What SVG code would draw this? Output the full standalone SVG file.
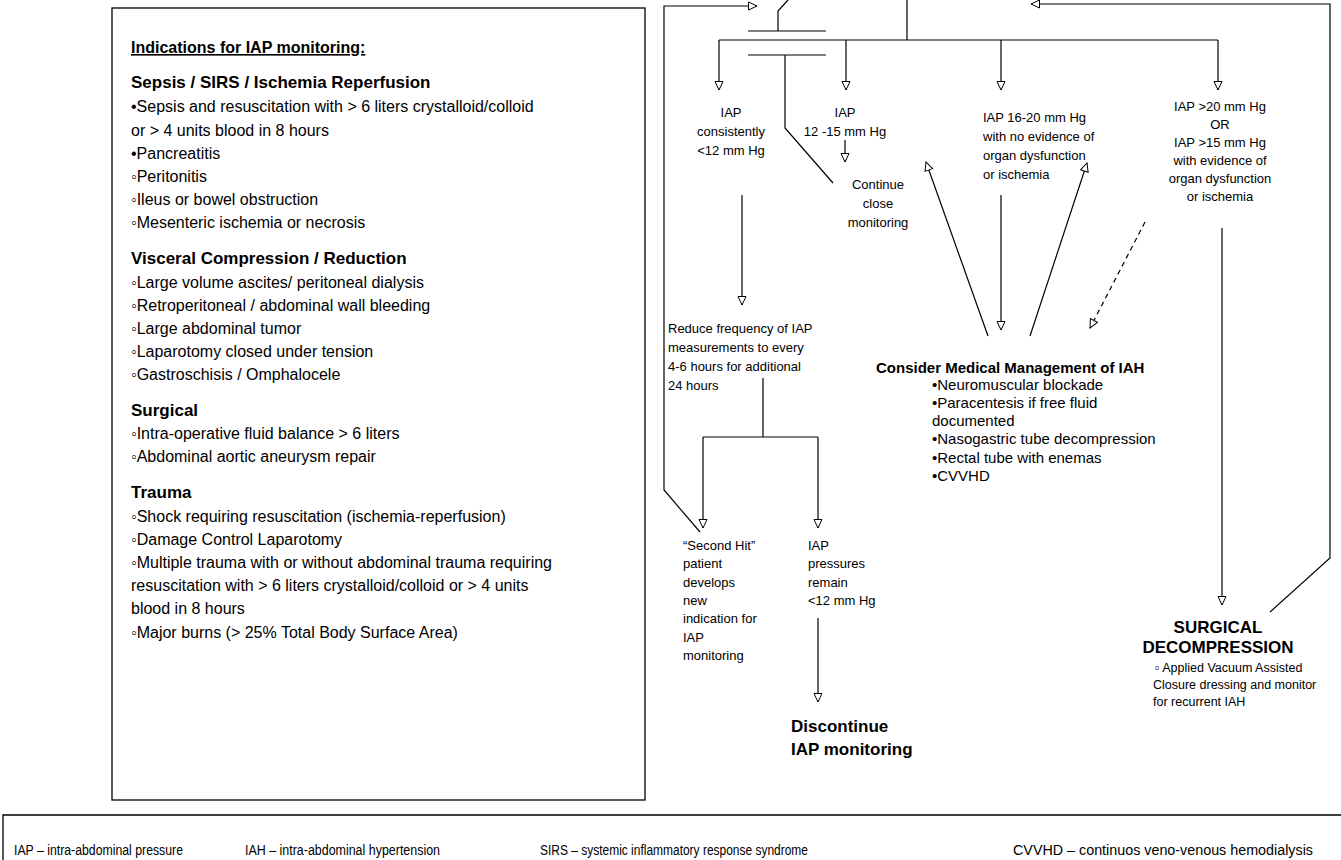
<svg xmlns="http://www.w3.org/2000/svg" width="1341" height="860" viewBox="0 0 1341 860">
<defs>
<marker id="ar" markerWidth="11" markerHeight="11" refX="9.5" refY="5" orient="auto" markerUnits="userSpaceOnUse"><path d="M1,1 L9.5,5 L1,9 z" fill="#fff" stroke="#000" stroke-width="1"/></marker>
<style>
.t{font-family:"Liberation Sans",Arial,sans-serif;fill:#000}
.lb{font-size:16px}
.lbb{font-size:17px;font-weight:bold}
.f{font-size:13px}
.fb{font-size:15px}
.big{font-size:17px;font-weight:bold}
.lg{font-size:14px}
.ln{stroke:#000;stroke-width:1.2;fill:none}
.arr{marker-end:url(#ar)}
.ds{stroke-dasharray:5 4}
</style>
</defs>
<rect width="1341" height="860" fill="#fff"/>

<g id="indications">
<rect x="112" y="8" width="533" height="792" fill="none" stroke="#000" stroke-width="1.3"/>
<g class="t lb">
<text x="131" y="53" font-weight="bold" text-decoration="underline">Indications for IAP monitoring:</text>
<text x="131" y="88" class="lbb">Sepsis / SIRS / Ischemia Reperfusion</text>
<text x="131" y="112">•Sepsis and resuscitation with &gt; 6 liters crystalloid/colloid</text>
<text x="131" y="136">or &gt; 4 units blood in 8 hours</text>
<text x="131" y="159">•Pancreatitis</text>
<text x="131" y="182">◦Peritonitis</text>
<text x="131" y="205">◦Ileus or bowel obstruction</text>
<text x="131" y="228">◦Mesenteric ischemia or necrosis</text>
<text x="131" y="264" class="lbb">Visceral Compression / Reduction</text>
<text x="131" y="288">◦Large volume ascites/ peritoneal dialysis</text>
<text x="131" y="311">◦Retroperitoneal / abdominal wall bleeding</text>
<text x="131" y="334">◦Large abdominal tumor</text>
<text x="131" y="357">◦Laparotomy closed under tension</text>
<text x="131" y="380">◦Gastroschisis / Omphalocele</text>
<text x="131" y="416" class="lbb">Surgical</text>
<text x="131" y="439">◦Intra-operative fluid balance &gt; 6 liters</text>
<text x="131" y="462">◦Abdominal aortic aneurysm repair</text>
<text x="131" y="498" class="lbb">Trauma</text>
<text x="131" y="522">◦Shock requiring resuscitation (ischemia-reperfusion)</text>
<text x="131" y="545">◦Damage Control Laparotomy</text>
<text x="131" y="568">◦Multiple trauma with or without abdominal trauma requiring</text>
<text x="131" y="591">resuscitation with &gt; 6 liters crystalloid/colloid or &gt; 4 units</text>
<text x="131" y="614">blood in 8 hours</text>
<text x="131" y="638">◦Major burns (&gt; 25% Total Body Surface Area)</text>
</g>
</g>

<g id="connectors">
<path class="ln" d="M788,0 L778,11 L778,31 M748,31 L826,31"/>
<path class="ln" d="M907,0 L907,40 M719,40 L1218,40"/>
<path class="ln arr" d="M719,40 L719,90"/>
<path class="ln arr" d="M846,40 L846,90"/>
<path class="ln arr" d="M1001,40 L1001,90"/>
<path class="ln arr" d="M1218,40 L1218,90"/>
<path class="ln" d="M748,55 L826,55 M785,55 L785,128 L833,183"/>
<path class="ln arr" d="M845,140 L845,162"/>
<path class="ln arr" d="M742,195 L742,305"/>
<path class="ln" d="M763,378 L763,437 M703,437 L818,437"/>
<path class="ln arr" d="M703,437 L703,528"/>
<path class="ln arr" d="M818,437 L818,528"/>
<path class="ln arr" d="M818,618 L818,702"/>
<path class="ln arr" d="M700,532 L664,490 L664,6 L757,6"/>
<path class="ln arr" d="M1001,195 L1001,330"/>
<path class="ln arr" d="M988,336 L926,162"/>
<path class="ln arr" d="M1030,336 L1087,163"/>
<path class="ln arr ds" d="M1145,222 L1090,328"/>
<path class="ln arr" d="M1222,228 L1222,605"/>
<path class="ln arr" d="M1270,612 L1330,558 L1330,4 L1031,4"/>
</g>

<g id="n-lt12" class="t f" text-anchor="middle">
<text x="731" y="117">IAP</text>
<text x="731" y="136">consistently</text>
<text x="731" y="155">&lt;12 mm Hg</text>
</g>
<g id="n-12-15" class="t f" text-anchor="middle">
<text x="845" y="117">IAP</text>
<text x="845" y="136">12 -15 mm Hg</text>
</g>
<g id="n-continue" class="t f" text-anchor="middle">
<text x="878" y="189">Continue</text>
<text x="878" y="208">close</text>
<text x="878" y="227">monitoring</text>
</g>
<g id="n-16-20" class="t f">
<text x="983" y="122">IAP 16-20 mm Hg</text>
<text x="983" y="141">with no evidence of</text>
<text x="983" y="160">organ dysfunction</text>
<text x="983" y="179">or ischemia</text>
</g>
<g id="n-gt20" class="t f" text-anchor="middle">
<text x="1220" y="111">IAP &gt;20 mm Hg</text>
<text x="1220" y="129">OR</text>
<text x="1220" y="147">IAP &gt;15 mm Hg</text>
<text x="1220" y="165">with evidence of</text>
<text x="1220" y="183">organ dysfunction</text>
<text x="1220" y="201">or ischemia</text>
</g>
<g id="n-reduce" class="t f">
<text x="668" y="333">Reduce frequency of IAP</text>
<text x="668" y="352">measurements to every</text>
<text x="668" y="371">4-6 hours for additional</text>
<text x="668" y="390">24 hours</text>
</g>
<g id="n-medical" class="t fb">
<text x="876" y="373" font-weight="bold">Consider Medical Management of IAH</text>
<text x="932" y="390">•Neuromuscular blockade</text>
<text x="932" y="408">•Paracentesis if free fluid</text>
<text x="932" y="426">documented</text>
<text x="932" y="444">•Nasogastric tube decompression</text>
<text x="932" y="463">•Rectal tube with enemas</text>
<text x="932" y="481">•CVVHD</text>
</g>
<g id="n-secondhit" class="t f">
<text x="683" y="550">“Second Hit”</text>
<text x="683" y="568">patient</text>
<text x="683" y="587">develops</text>
<text x="683" y="605">new</text>
<text x="683" y="623">indication for</text>
<text x="683" y="642">IAP</text>
<text x="683" y="660">monitoring</text>
</g>
<g id="n-remain" class="t f">
<text x="808" y="550">IAP</text>
<text x="808" y="568">pressures</text>
<text x="808" y="587">remain</text>
<text x="808" y="605">&lt;12 mm Hg</text>
</g>
<g id="n-discontinue" class="t big">
<text x="791" y="732">Discontinue</text>
<text x="791" y="755">IAP monitoring</text>
</g>
<g id="n-surgical" class="t">
<text x="1218" y="633" class="big" text-anchor="middle">SURGICAL</text>
<text x="1218" y="653" class="big" text-anchor="middle">DECOMPRESSION</text>
<text x="1155" y="672" font-size="12.5">▫ Applied Vacuum Assisted</text>
<text x="1153" y="689" font-size="12.5">Closure dressing and monitor</text>
<text x="1153" y="706" font-size="12.5">for recurrent IAH</text>
</g>

<g id="legend">
<path d="M3,860 L3,815 L1341,815" fill="none" stroke="#000" stroke-width="1.3"/>
<g class="t lg">
<text x="14" y="855" textLength="169" lengthAdjust="spacingAndGlyphs">IAP – intra-abdominal pressure</text>
<text x="245" y="855" textLength="195" lengthAdjust="spacingAndGlyphs">IAH – intra-abdominal hypertension</text>
<text x="540" y="855" textLength="268" lengthAdjust="spacingAndGlyphs">SIRS – systemic inflammatory response syndrome</text>
<text x="1013" y="855" textLength="300" lengthAdjust="spacingAndGlyphs">CVVHD – continuos veno-venous hemodialysis</text>
</g>
</g>
</svg>
